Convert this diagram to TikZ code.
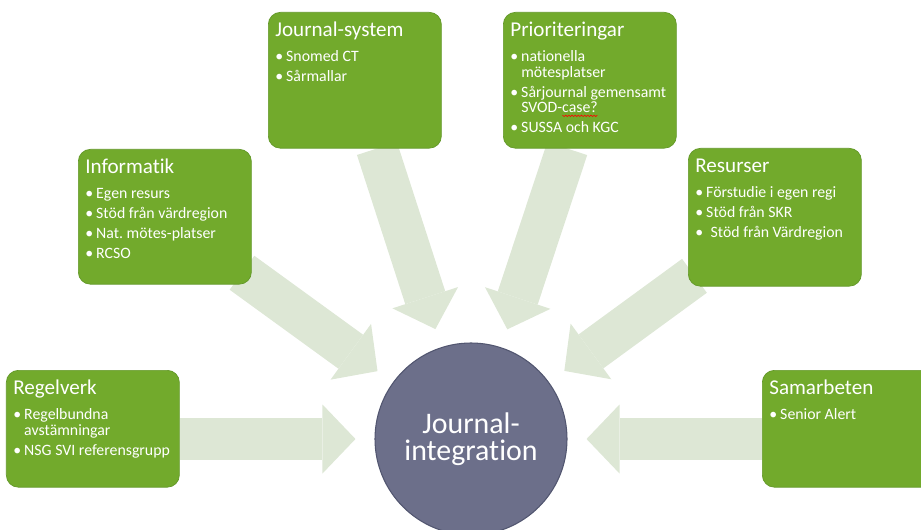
\documentclass[tikz,border=0pt]{standalone}
\usepackage{fontspec}
\setmainfont[Ligatures=NoCommon]{Carlito}
\usetikzlibrary{arrows.meta,backgrounds}

\definecolor{boxgreen}{RGB}{114,170,44}
\definecolor{boxedge}{RGB}{98,152,40}
\definecolor{arrowgrey}{RGB}{221,231,213}
\definecolor{hubfill}{RGB}{108,111,138}
\definecolor{hubedge}{RGB}{82,86,112}

% text inside the green panels
\newcommand{\panelbox}[2]{\parbox[t][#1][t]{3.18cm}{\fontsize{9}{8.8}\selectfont\raggedright
  \frenchspacing\lineskiplimit=-20pt\setlength{\parskip}{2.5pt}#2}}
\newcommand{\ptitle}[1]{{\fontsize{12}{13}\selectfont\rule{0pt}{9pt}#1\par}\vspace{3.4pt}}
\newcommand{\itm}[1]{\par\hangindent=6.2pt\hangafter=1\noindent\makebox[6.2pt][l]{\textbullet}#1}
\newcommand{\spellwave}[1]{\rlap{\tikz[baseline=0pt]\draw[red,line width=0.35pt,sharp corners]
  (0,-1.4pt) \foreach \k in {1,...,11} {-- ++(0.9pt,-0.8pt) -- ++(0.9pt,0.8pt)};}#1}

\tikzset{
  panel/.style={draw=boxedge, line width=0.4pt, fill=boxgreen, rounded corners=0.24cm,
    text=white, inner xsep=0.14cm, inner ysep=4.5pt, anchor=north west},
  hub/.style={circle, draw=hubedge, line width=0.6pt, fill=hubfill, text=white,
    minimum size=3.84cm, inner sep=0pt, align=center, font=\fontsize{17}{15.5}\selectfont},
  bigarrow/.style={draw=arrowgrey, line width=0.84cm,
    -{Triangle[length=0.66cm, width=1.38cm, line width=0pt]}, shorten >=0.38cm}
}

\begin{document}
\begin{tikzpicture}
\useasboundingbox (0,0) rectangle (18.42,-10.6);

%centre
\node[hub] (hub) at (9.42,-8.78) {Journal-\\integration};

%panels
\node[panel] (reg) at (0.12,-7.40) {\panelbox{2.02cm}{\ptitle{Regelverk}%
  \itm{Regelbundna\newline avstämningar}\itm{NSG SVI referensgrupp}}};
\node[panel] (info) at (1.56,-2.98) {\panelbox{2.38cm}{\ptitle{Informatik}%
  \itm{Egen resurs}\itm{Stöd från värdregion}\itm{Nat. mötes-platser}\itm{RCSO}}};
\node[panel] (jsys) at (5.36,-0.24) {\panelbox{2.40cm}{\ptitle{Journal-system}%
  \itm{Snomed CT}\itm{Sårmallar}}};
\node[panel] (prio) at (10.06,-0.24) {\panelbox{2.40cm}{\ptitle{Prioriteringar}%
  \itm{nationella\newline mötesplatser}\itm{Sårjournal gemensamt\newline SVOD-\spellwave{case?}}%
  \itm{SUSSA och KGC}}};
\node[panel] (res) at (13.76,-2.96) {\panelbox{2.44cm}{\ptitle{Resurser}%
  \itm{Förstudie i egen regi}\itm{Stöd från SKR}\itm{\hspace{2.5pt}Stöd från Värdregion}}};
\node[panel] (sam) at (15.24,-7.40) {\panelbox{2.02cm}{\ptitle{Samarbeten}%
  \itm{Senior Alert}}};

%arrows into the centre
\begin{scope}[on background layer]
\draw[bigarrow] (reg.east |- hub) -- (hub);
\draw[bigarrow, shorten <=-0.24cm] (info) -- (hub);
\draw[bigarrow] (jsys) -- (hub);
\draw[bigarrow] (prio) -- (hub);
\draw[bigarrow, shorten <=-0.16cm] (res) -- (hub);
\draw[bigarrow] (sam.west |- hub) -- (hub);
\end{scope}

\end{tikzpicture}
\end{document}
